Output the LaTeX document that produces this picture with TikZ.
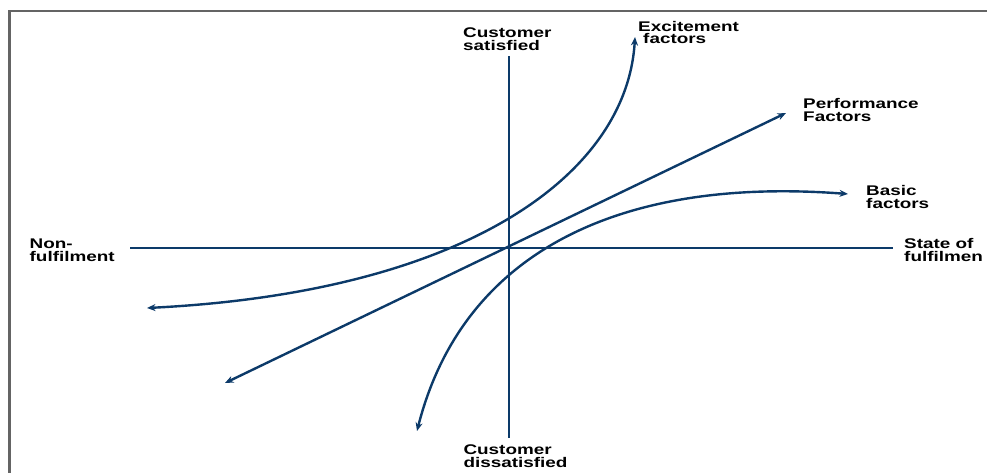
\documentclass[tikz,border=0pt]{standalone}
\usepackage{fontspec}
\newfontfamily\lblfont{Liberation Sans}[FakeStretch=1.35]
\usetikzlibrary{arrows.meta}
\definecolor{kblue}{RGB}{12,58,105}
\definecolor{framegray}{RGB}{100,100,100}
\tikzset{
  lbl/.style={anchor=base west, inner sep=0pt, align=left,
    font=\lblfont\bfseries\fontsize{14}{12.8}\selectfont, text=black},
  axis/.style={draw=kblue, line width=2.9pt},
  curve/.style={draw=kblue, line width=2.4pt,
    {Stealth[length=8.5pt,width=7pt]}-{Stealth[length=8.5pt,width=7pt]}},
  frameline/.style={draw=framegray, line width=2.2pt}
}
\begin{document}
\begin{tikzpicture}[x=1pt,y=-1pt]
\useasboundingbox (0,0) rectangle (987,472);
% frame
\coordinate (fb) at (9.5,473);
\coordinate (fc) at (9.5,11);
\coordinate (fr) at (988,11);
\draw[frameline] (fb) -- (fc) -- (fr);
% axes
\coordinate (hl) at (130,248);
\coordinate (hr) at (893,248);
\coordinate (vt) at (509,56);
\coordinate (vb) at (509,438);
\draw[axis] (hl) -- (hr);
\draw[axis] (vt) -- (vb);
% curves
\coordinate (e0) at (147,308);
\coordinate (e1) at (635,37);
\draw[curve] (e0) .. controls (469,292) and (627,173) .. (e1);
\coordinate (p0) at (225,383);
\coordinate (p1) at (786,113);
\draw[curve] (p0) -- (p1);
\coordinate (b0) at (417,431);
\coordinate (b1) at (848,194);
\draw[curve] (b0) .. controls (461,258) and (611,176) .. (b1);
% labels
\node[lbl] (csat) at (463,50.5) {Customer\\satisfied};
\node[lbl] (exc) at (638,43.8) {Excitement\\\hspace*{5pt}factors};
\node[lbl] (perf) at (803,121) {Performance\\Factors};
\node[lbl] (basic) at (866,208) {Basic\\factors};
\node[lbl] (nonf) at (29.5,261) {Non-\\fulfilment};
\node[lbl] (state) at (904,261) {State of\\fulfilmen};
\node[lbl] (cdis) at (463.3,467.5) {Customer\\dissatisfied};
\end{tikzpicture}
\end{document}
